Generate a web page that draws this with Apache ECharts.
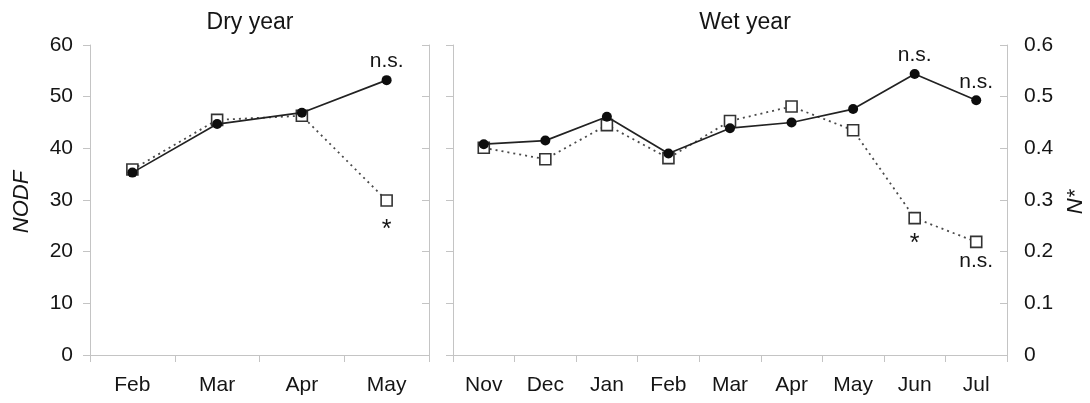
<!DOCTYPE html>
<html>
<head>
<meta charset="utf-8">
<style>
  html, body { margin: 0; padding: 0; background: #fff; }
  #chart { width: 1090px; height: 403px; }
</style>
<script src="https://cdn.jsdelivr.net/npm/echarts@6/dist/echarts.min.js"></script>
</head>
<body>
<div id="chart"></div>
<script>
// Dry year: NODF by month
const dryMonths = ['Feb', 'Mar', 'Apr', 'May'];
const dryObserved = [35.3, 44.7, 46.9, 53.2];
const dryNull = [35.9, 45.5, 46.3, 29.9];
const dryObservedNotes = ['', '', '', 'n.s.'];
const dryNullNotes = ['', '', '', '*'];

// Wet year: N* by month
const wetMonths = ['Nov', 'Dec', 'Jan', 'Feb', 'Mar', 'Apr', 'May', 'Jun', 'Jul'];
const wetObserved = [0.408, 0.415, 0.461, 0.390, 0.439, 0.450, 0.476, 0.544, 0.493];
const wetNull = [0.401, 0.379, 0.445, 0.381, 0.453, 0.481, 0.435, 0.265, 0.219];
const wetObservedNotes = ['', '', '', '', '', '', '', 'n.s.', 'n.s.'];
const wetNullNotes = ['', '', '', '', '', '', '', '*', 'n.s.'];

// Axis tick settings
const nodfTicks = { min: 0, max: 60, interval: 10 };
const nstarTicks = { min: 0, max: 0.6, interval: 0.1 };

const FONT = '"Liberation Sans", Arial, sans-serif';
const TEXT = '#151515';
const AXIS = '#c4c4c4';

function withNotes(values, notes, pos, starGap) {
  return values.map((v, i) => {
    if (!notes[i]) return v;
    const star = notes[i] === '*';
    return {
      value: v,
      label: {
        show: true,
        formatter: notes[i],
        position: pos,
        distance: star ? starGap : 3,
        fontSize: star ? 25 : 21,
        fontFamily: FONT,
        color: TEXT
      }
    };
  });
}

function catAxis(grid, data) {
  return {
    type: 'category', gridIndex: grid, data: data, boundaryGap: true,
    axisLine: { lineStyle: { color: AXIS, width: 1 } },
    axisTick: { show: true, length: 7, lineStyle: { color: AXIS } },
    axisLabel: { color: TEXT, fontSize: 21, fontFamily: FONT, margin: 20 },
    splitLine: { show: false }
  };
}

function valAxis(grid, ticks, pos, labels, inside) {
  return Object.assign({
    type: 'value', gridIndex: grid, position: pos,
    axisLine: { show: true, lineStyle: { color: AXIS, width: 1 } },
    axisTick: { show: true, inside: inside, length: 7, lineStyle: { color: AXIS } },
    axisLabel: {
      show: labels, color: TEXT, fontSize: 21, fontFamily: FONT, margin: 17,
      formatter: v => (ticks.max < 1 ? (v === 0 ? '0' : v.toFixed(1)) : String(v))
    },
    splitLine: { show: false }
  }, ticks);
}

function observedSeries(x, y, data) {
  return {
    type: 'line', xAxisIndex: x, yAxisIndex: y, data: data, z: 3,
    symbol: 'circle', symbolSize: 10,
    itemStyle: { color: '#0d0d0d' },
    lineStyle: { color: '#222', width: 1.7, type: 'solid' },
    animation: false
  };
}

function nullSeries(x, y, data) {
  return {
    type: 'line', xAxisIndex: x, yAxisIndex: y, data: data, z: 2,
    symbol: 'rect', symbolSize: 11,
    itemStyle: { color: '#fff', borderColor: '#333', borderWidth: 1.6 },
    lineStyle: { color: '#4a4a4a', width: 1.8, type: [2, 4] },
    animation: false
  };
}

const chart = echarts.init(document.getElementById('chart'), null, { renderer: 'canvas' });

chart.setOption({
  backgroundColor: '#fff',
  animation: false,
  grid: [
    { left: 90, right: 1090 - 429, top: 45, bottom: 403 - 355 },
    { left: 453, right: 1090 - 1007, top: 45, bottom: 403 - 355 }
  ],
  xAxis: [catAxis(0, dryMonths), catAxis(1, wetMonths)],
  yAxis: [
    valAxis(0, nodfTicks, 'left', true, false),
    valAxis(0, nodfTicks, 'right', false, true),
    valAxis(1, nstarTicks, 'left', false, false),
    valAxis(1, nstarTicks, 'right', true, true)
  ],
  series: [
    nullSeries(0, 0, withNotes(dryNull, dryNullNotes, 'bottom', 11)),
    observedSeries(0, 0, withNotes(dryObserved, dryObservedNotes, 'top', 0)),
    nullSeries(1, 3, withNotes(wetNull, wetNullNotes, 'bottom', 7)),
    observedSeries(1, 3, withNotes(wetObserved, wetObservedNotes, 'top', 0))
  ],
  graphic: [
    { type: 'text', x: 250, y: 23, style: { text: 'Dry year', font: '23px ' + FONT, fill: TEXT, textAlign: 'center', textVerticalAlign: 'middle' } },
    { type: 'text', x: 745, y: 23, style: { text: 'Wet year', font: '23px ' + FONT, fill: TEXT, textAlign: 'center', textVerticalAlign: 'middle' } },
    { type: 'text', x: 22, y: 202, rotation: Math.PI / 2, style: { text: 'NODF', font: 'italic 22px ' + FONT, fill: TEXT, textAlign: 'center', textVerticalAlign: 'middle' } },
    { type: 'text', x: 1076, y: 202, rotation: Math.PI / 2, style: { text: 'N*', font: 'italic 22px ' + FONT, fill: TEXT, textAlign: 'center', textVerticalAlign: 'middle' } }
  ]
});
</script>
</body>
</html>
